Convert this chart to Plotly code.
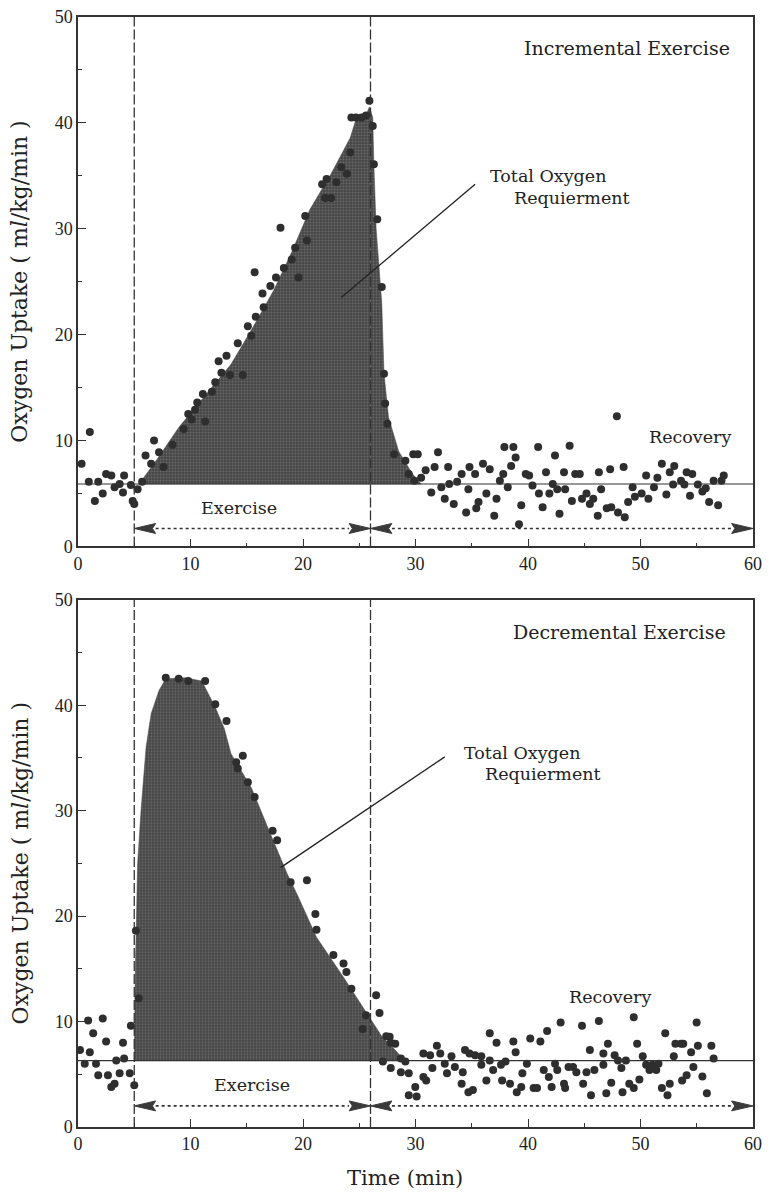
import plotly.graph_objects as go

# ---------------- DATA ----------------
# Incremental exercise (top panel) : measured oxygen uptake points
inc_x = [0.32, 1.05, 0.96, 1.5, 1.8, 2.2, 2.5, 2.96, 3.25, 3.7, 4.1, 4.0, 4.7, 4.86, 5.0, 5.3, 5.7,
         6.0, 6.76, 6.5, 7.2, 7.6, 8.4, 9.4, 9.8, 10.4, 10.6, 10.1, 11.1, 11.3, 11.9, 12.2, 12.5, 12.75,
         13.2, 13.5, 14.65, 14.2, 15.1, 15.4, 15.8, 16.5, 15.7, 16.4, 17.1, 17.6, 18.0, 18.3, 19.0, 19.3,
         19.6, 20.2, 20.35, 21.7, 22.1, 21.96, 22.5, 22.97, 23.4, 23.9, 24.2, 24.3, 24.7, 25.2, 25.6,
         25.9, 26.2, 26.3, 26.6, 27.0,
         27.2, 27.3, 27.5, 28.1, 29.1, 29.8, 30.2, 29.4, 29.9, 30.5, 30.9, 31.4, 31.7, 32.0, 32.3, 32.6,
         32.9, 33.0, 33.4, 33.7, 34.1, 34.5, 34.7, 34.8, 35.3, 35.6, 35.4, 36.0, 36.3, 36.6, 37.0, 37.2,
         37.5, 37.8, 37.9, 38.2, 38.5, 38.7, 38.9, 39.4, 39.2, 39.8, 40.1, 40.4, 40.9, 40.97, 41.3, 41.6,
         41.9, 42.2, 42.4, 42.6, 42.8, 43.2, 43.3, 43.7, 43.9, 44.2, 44.6, 44.8, 45.2, 45.5, 45.8, 46.2,
         46.3, 46.5, 47.0, 47.3, 47.4, 47.9, 48.0, 48.5, 48.6, 48.9, 49.3, 49.5, 50.1, 50.5, 50.7, 51.2,
         51.5, 51.9, 52.3, 52.6, 53.0, 52.9, 53.6, 53.9, 54.1, 54.4, 54.6, 55.1, 55.5, 55.8, 56.1, 56.5,
         56.9, 57.2, 57.4]
inc_y = [7.8, 10.8, 6.1, 4.3, 6.1, 5.0, 6.85, 6.7, 5.6, 5.9, 6.7, 5.1, 5.8, 4.3, 4.0, 5.4, 6.1,
         8.6, 10.0, 7.8, 8.9, 7.5, 9.6, 11.1, 12.5, 12.9, 13.6, 12.0, 14.4, 11.8, 14.6, 15.5, 17.5, 16.4,
         18.0, 16.2, 16.2, 19.2, 20.8, 19.9, 21.7, 22.6, 25.9, 23.9, 24.6, 25.4, 30.1, 26.3, 27.1, 28.2,
         25.4, 31.2, 28.9, 34.2, 34.7, 32.9, 32.9, 34.4, 35.8, 35.2, 37.2, 40.5, 40.5, 40.5, 40.7,
         42.1, 39.7, 36.1, 30.9, 24.5,
         16.3, 13.5, 11.6, 8.7, 8.1, 8.7, 8.7, 6.85, 6.2, 6.5, 7.2, 5.1, 7.5, 8.9, 5.6, 4.5,
         7.5, 5.9, 4.0, 6.1, 6.85, 3.2, 5.4, 7.5, 6.85, 4.2, 3.6, 7.8, 5.0, 7.3, 2.9, 4.5,
         6.2, 6.85, 9.4, 5.6, 7.6, 9.4, 8.4, 3.9, 2.1, 6.85, 6.7, 5.75, 9.4, 5.0, 3.7, 7.0,
         5.0, 5.9, 8.6, 5.4, 3.1, 7.0, 5.4, 9.5, 4.3, 6.85, 6.85, 4.5, 5.0, 4.0, 4.5, 2.9,
         7.0, 5.4, 3.6, 7.3, 3.7, 12.3, 3.2, 7.5, 2.75, 4.2, 5.6, 4.7, 5.0, 6.7, 4.5, 5.6,
         6.5, 7.8, 4.9, 7.0, 7.6, 5.85, 6.2, 5.85, 7.0, 4.8, 6.85, 5.85, 5.2, 5.5, 4.2, 6.2,
         3.9, 6.2, 6.7]
# envelope of the shaded "total oxygen requirement" area (top)
inc_env_x = [5.5, 7.0, 9.0, 11.0, 13.6, 15.5, 17.4, 19.0, 20.6, 22.5, 24.2, 24.7, 25.5, 25.9, 26.2,
             26.3, 26.5, 27.0, 27.2, 27.6, 28.5, 29.7, 30.5]
inc_env_y = [6.0, 8.2, 11.3, 13.9, 17.2, 20.6, 24.2, 27.8, 31.8, 35.2, 38.6, 40.3, 40.5, 41.5, 40.5,
             36.0, 30.0, 23.0, 16.3, 12.2, 9.0, 6.9, 5.9]
inc_baseline = 5.9

# Decremental exercise (bottom panel)
dec_x = [0.18, 0.6, 0.9, 1.05, 1.35, 1.6, 1.8, 2.2, 2.5, 2.66, 2.96, 3.25, 3.4, 3.7, 4.0, 4.1, 4.6,
         4.7, 5.0, 5.4, 5.15,
         7.8, 8.95, 9.8, 11.3, 12.2, 13.2, 14.06, 14.65, 14.2, 15.1, 15.7, 17.3, 17.7, 18.9, 20.35,
         21.1, 21.2, 22.7, 23.6, 23.86, 24.3, 25.3, 25.6, 26.5, 26.8, 27.4, 27.8, 27.1, 27.8,
         27.7, 28.2, 28.7, 29.1, 28.7, 29.4, 29.4, 29.98, 30.1, 30.7, 30.7, 30.95, 31.3, 31.5, 31.9,
         32.2, 32.6, 32.8, 33.2, 33.5, 34.1, 34.2, 34.4, 34.8, 34.7, 35.1, 35.3, 35.85, 35.85, 36.3,
         36.6, 36.6, 36.9, 37.2, 37.6, 37.7, 38.0, 38.4, 38.7, 38.9, 39.0, 39.5, 39.4, 39.9, 40.2,
         40.5, 40.8, 41.1, 41.4, 41.7, 41.85, 42.1, 42.4, 42.6, 42.9, 43.2, 43.3, 43.6, 44.0, 44.3,
         44.8, 44.9, 45.2, 45.5, 45.6, 45.9, 46.3, 46.7, 46.7, 46.96, 47.1, 47.4, 47.7, 48.0, 48.3,
         48.4, 48.7, 49.0, 49.4, 49.4, 49.7, 49.9, 50.2, 50.5, 50.8, 51.05, 51.4, 51.6, 51.9, 52.2,
         52.4, 52.6, 52.96, 53.1, 53.6, 53.7, 53.8, 54.1, 54.5, 54.7, 54.99, 55.1, 55.5, 55.9, 56.3,
         56.5]
dec_y = [7.3, 6.0, 10.1, 7.1, 8.9, 6.0, 4.9, 10.3, 8.1, 4.9, 3.8, 4.1, 6.3, 5.1, 7.98, 6.5, 5.1,
         9.6, 3.97, 12.2, 18.6,
         42.6, 42.5, 42.3, 42.3, 40.1, 38.5, 34.6, 35.2, 34.0, 32.7, 31.3, 28.1, 27.2, 23.2, 23.4,
         20.2, 18.7, 16.3, 15.5, 14.7, 13.1, 9.3, 10.6, 12.5, 10.8, 8.6, 8.0, 6.2, 5.6,
         8.55, 7.9, 6.5, 6.2, 5.2, 5.1, 3.0, 3.8, 2.9, 6.97, 4.75, 4.4, 6.8, 5.6, 7.7,
         6.97, 6.0, 5.1, 6.7, 5.7, 4.1, 5.2, 7.3, 6.97, 3.3, 3.5, 6.8, 6.7, 5.9, 4.4,
         6.3, 8.9, 5.4, 7.98, 5.9, 4.4, 6.2, 4.1, 8.1, 7.1, 3.3, 5.1, 3.8, 6.0, 8.4,
         3.7, 3.7, 8.1, 5.4, 9.1, 4.75, 3.8, 6.0, 5.4, 9.9, 4.1, 3.7, 5.7, 5.7, 5.2,
         9.6, 4.1, 5.2, 7.3, 3.0, 5.4, 10.05, 6.97, 5.9, 3.2, 7.9, 4.2, 6.8, 6.3, 5.6,
         3.3, 6.3, 4.1, 3.7, 10.4, 7.9, 4.5, 6.7, 5.9, 5.4, 5.9, 5.4, 6.0, 3.7, 8.9,
         3.0, 4.1, 6.7, 7.9, 7.9, 4.4, 7.9, 4.9, 7.1, 5.7, 9.9, 7.7, 4.8, 3.2, 7.7,
         6.5]
dec_env_x = [5.0, 5.1, 5.3, 5.6, 6.05, 6.5, 7.2, 7.8, 9.5, 11.0, 12.2, 13.0, 13.6, 15.4, 17.1, 18.6,
             19.5, 21.2, 23.6, 25.9, 27.0, 28.2, 29.0]
dec_env_y = [6.3, 15.0, 25.0, 30.0, 36.0, 39.2, 41.4, 42.5, 42.6, 42.3, 39.8, 37.8, 35.4, 32.2, 27.8,
             24.0, 22.0, 18.0, 14.2, 10.4, 8.6, 7.3, 6.3]
dec_baseline = 6.3

phase_bounds = [5, 26, 60]       # exercise start, exercise end, end of recovery
arrow_level = [1.7, 2.0]         # y of the Exercise/Recovery arrows (top, bottom)

# ---------------- STYLE ----------------
SERIF = "DejaVu Serif"
TICKFONT = dict(family="Liberation Serif", size=18, color="#222")
DOT = "#2e2e2e"
INK = "#333"

fig = go.Figure()

panels = [
    dict(xa="x", ya="y", env_x=inc_env_x, env_y=inc_env_y, base=inc_baseline, px=inc_x, py=inc_y),
    dict(xa="x2", ya="y2", env_x=dec_env_x, env_y=dec_env_y, base=dec_baseline, px=dec_x, py=dec_y),
]

for p in panels:
    poly_x = p["env_x"] + [p["env_x"][-1], p["env_x"][0]]
    poly_y = p["env_y"] + [p["base"], p["base"]]
    fig.add_trace(go.Scatter(
        x=poly_x, y=poly_y, xaxis=p["xa"], yaxis=p["ya"], mode="lines",
        line=dict(width=0.5, color="#444"), fill="toself", fillcolor="#4a4a4a",
        fillpattern=dict(shape=".", fgcolor="#8c8c8c", bgcolor="#464646", size=3, solidity=0.35),
        hoverinfo="skip", showlegend=False))
    fig.add_trace(go.Scatter(
        x=p["px"], y=p["py"], xaxis=p["xa"], yaxis=p["ya"], mode="markers",
        marker=dict(size=8, color=DOT, line=dict(width=0)), showlegend=False))

top_dom = [0.523, 1.0]
bot_dom = [0.0, 0.475]
axis_common = dict(range=[0, 60], dtick=10, ticks="inside", ticklen=8, tickwidth=1.3,
                   tickcolor=INK, showline=True, linecolor=INK, linewidth=1.5, mirror=True,
                   showgrid=False, zeroline=False, tickfont=TICKFONT,
                   minor=dict(dtick=5, ticks="inside", ticklen=4, tickcolor=INK, showgrid=False))
yaxis_common = dict(range=[0, 50], dtick=10, ticks="inside", ticklen=8, tickwidth=1.3,
                    tickcolor=INK, showline=True, linecolor=INK, linewidth=1.5, mirror=True,
                    showgrid=False, zeroline=False, tickfont=TICKFONT,
                    minor=dict(dtick=5, ticks="inside", ticklen=4, tickcolor=INK, showgrid=False))

fig.update_layout(
    width=769, height=1192,
    margin=dict(l=78, r=7, t=16, b=65),
    paper_bgcolor="white", plot_bgcolor="white",
    xaxis=dict(anchor="y", domain=[0, 1], **axis_common),
    yaxis=dict(anchor="x", domain=top_dom, **yaxis_common),
    xaxis2=dict(anchor="y2", domain=[0, 1], **axis_common),
    yaxis2=dict(anchor="x2", domain=bot_dom, **yaxis_common),
    showlegend=False,
)

shapes = []
annotations = []
head_len, head_half = 1.9, 0.47

for i, p in enumerate(panels):
    xr, yr = p["xa"], p["ya"]
    # dashed phase boundaries
    for xb in phase_bounds[:2]:
        shapes.append(dict(type="line", xref=xr, yref=yr, x0=xb, x1=xb, y0=0, y1=50,
                           line=dict(color=INK, width=1.3, dash="10px,3px")))
    # baseline
    shapes.append(dict(type="line", xref=xr, yref=yr, x0=0, x1=60, y0=p["base"], y1=p["base"],
                       line=dict(color=INK, width=1.2)))
    # dotted arrows
    ya_ = arrow_level[i]
    for a, b in [(phase_bounds[0], phase_bounds[1]), (phase_bounds[1], phase_bounds[2])]:
        shapes.append(dict(type="line", xref=xr, yref=yr, x0=a + head_len, x1=b - head_len,
                           y0=ya_, y1=ya_, line=dict(color=INK, width=1.6, dash="dot")))
        shapes.append(dict(type="path", xref=xr, yref=yr,
                           path=f"M {a},{ya_} L {a+head_len},{ya_+head_half} L {a+head_len*0.85},{ya_} L {a+head_len},{ya_-head_half} Z",
                           fillcolor="#3a3a3a", line=dict(color="#3a3a3a", width=1)))
        shapes.append(dict(type="path", xref=xr, yref=yr,
                           path=f"M {b},{ya_} L {b-head_len},{ya_+head_half} L {b-head_len*0.85},{ya_} L {b-head_len},{ya_-head_half} Z",
                           fillcolor="#3a3a3a", line=dict(color="#3a3a3a", width=1)))

# pointer lines for "Total Oxygen Requierment"
shapes.append(dict(type="line", xref="x", yref="y", x0=35.3, y0=34.2, x1=23.4, y1=23.5,
                   line=dict(color="#222", width=1.3)))
shapes.append(dict(type="line", xref="x2", yref="y2", x0=32.6, y0=35.1, x1=18.0, y1=24.6,
                   line=dict(color="#222", width=1.3)))

def txt(text, x, y, xr, yr, size=17.5, xanchor="center"):
    annotations.append(dict(text=text, x=x, y=y, xref=xr, yref=yr, showarrow=False,
                            xanchor=xanchor, yanchor="middle",
                            font=dict(family=SERIF, size=size, color="#222")))

txt("Incremental Exercise", 58.1, 47.1, "x", "y", size=19, xanchor="right")
txt("Total Oxygen", 36.4, 35.0, "x", "y", xanchor="left")
txt("Requierment", 38.6, 32.9, "x", "y", xanchor="left")
txt("Recovery", 54.4, 10.3, "x", "y")
txt("Exercise", 14.3, 3.6, "x", "y")

txt("Decremental Exercise", 57.8, 46.9, "x2", "y2", size=19, xanchor="right")
txt("Total Oxygen", 34.1, 35.5, "x2", "y2", xanchor="left")
txt("Requierment", 36.0, 33.5, "x2", "y2", xanchor="left")
txt("Recovery", 47.3, 12.3, "x2", "y2")
txt("Exercise", 15.5, 4.0, "x2", "y2")

# axis titles
ytitle = "Oxygen Uptake ( m<i>l</i>/kg/min )"
for dom in (top_dom, bot_dom):
    annotations.append(dict(text=ytitle, xref="paper", yref="paper", x=0, y=(dom[0] + dom[1]) / 2,
                            xshift=-58, textangle=-90, showarrow=False, xanchor="center",
                            yanchor="middle", font=dict(family=SERIF, size=22, color="#222")))
annotations.append(dict(text="Time (min)", xref="x2", yref="paper", x=29.1, y=0, yshift=-51,
                        showarrow=False, xanchor="center", yanchor="middle",
                        font=dict(family=SERIF, size=21, color="#222")))

fig.update_layout(shapes=shapes, annotations=annotations)
fig.write_html("out.html")
